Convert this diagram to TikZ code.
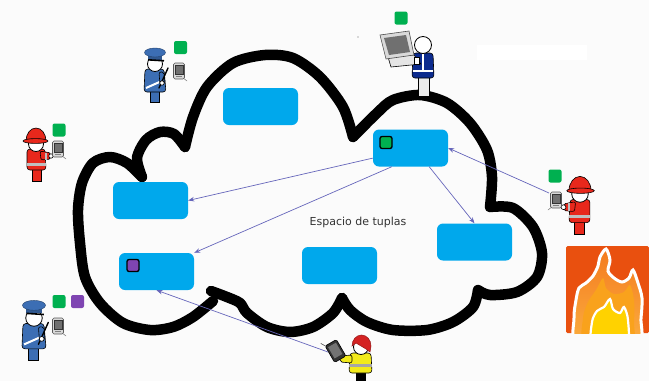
\documentclass[tikz,border=0pt]{standalone}
\usepackage{fontspec}
\setmainfont{DejaVu Sans}
\usetikzlibrary{arrows.meta}

\definecolor{bg}{HTML}{FBFBFB}
\definecolor{tupleblue}{HTML}{00A8EC}
\definecolor{tokgreen}{HTML}{00B050}
\definecolor{tokpurple}{HTML}{7F45B2}
\definecolor{linkblue}{HTML}{6666BB}
\definecolor{police}{HTML}{3C6EB4}
\definecolor{fire}{HTML}{E8281C}
\definecolor{navy}{HTML}{0C2B8E}
\definecolor{vest}{HTML}{F2EA1A}
\definecolor{hair}{HTML}{D42222}
\definecolor{devbody}{HTML}{D9D9D9}
\definecolor{devscreen}{HTML}{707070}
\definecolor{firebg}{HTML}{E9500F}
\definecolor{flametop}{HTML}{F47B20}
\definecolor{flamebot}{HTML}{FBB040}
\definecolor{flamemid}{HTML}{F9A21C}
\definecolor{flameinner}{HTML}{FFD200}

\tikzset{
  tuple/.style={rounded corners=6pt, fill=tupleblue, minimum width=75pt,
    minimum height=37pt, inner sep=0pt},
  token/.style={rounded corners=2pt, minimum size=13pt, inner sep=0pt},
  intoken/.style={token, draw=black, line width=1.3pt, minimum size=12pt},
  link/.style={draw=linkblue, line width=0.7pt, -{Stealth[length=6pt,width=4.5pt]}},
  cloudline/.style={line width=10.5pt, line cap=round, line join=round},
  outline/.style={draw=black, line width=0.6pt},
  % hand-held device with stylus
  pda/.pic={
    \draw[line width=0.5pt, black!55] (3,6) -- (8,10);
    \filldraw[fill=devbody, draw=black!65, line width=0.6pt, rounded corners=1.5pt]
      (-5.5,-8) rectangle (5.5,8);
    \filldraw[fill=devscreen, draw=black!80, line width=0.4pt] (-3.8,-5.5) rectangle (3.8,3);
    \fill[black!50] (-3,5) rectangle (3,6);
  },
  % police officer, origin at the head centre
  policeman/.pic={
    \filldraw[fill=police, outline] (-5,26) rectangle (4,38);
    \filldraw[fill=police, outline, rounded corners=3pt]
      (-10,5) -- (9,5) -- (11,28) -- (-11,28) -- cycle;
    \draw[white, line width=2pt] (-9,24) -- (9,16);
    \filldraw[fill=police, outline, rounded corners=2pt]
      (4,8) -- (9,8) -- (10,20) -- (5,21) -- cycle;
    \draw[black, line width=1.4pt, line cap=round] (4,24) -- (13,4);
    \filldraw[fill=white, outline] (7,19) circle (2.2);
    \filldraw[fill=white, draw=black, line width=0.8pt] (0,0) circle (7.5);
    \fill[police!80!black] (-7,-11) rectangle (7,-4.5);
    \filldraw[fill=police, draw=police!60!black, line width=0.4pt] (0,-11.5) ellipse (10.5 and 4.5);
    \draw[black, line width=1.6pt] (-7,-4.2) -- (9,-3.2);
  },
  % firefighter, origin at the head centre, facing right
  fireman/.pic={
    \filldraw[fill=fire, outline] (-4,25) rectangle (5,37);
    \filldraw[fill=fire, outline, rounded corners=3pt]
      (-9,5) -- (9,5) -- (10,26) -- (-9,26) -- cycle;
    \fill[black!25] (-9,19) rectangle (10,21.5);
    \filldraw[fill=fire, outline, rounded corners=2pt]
      (4,7) -- (15,9) -- (15,15) -- (5,16) -- cycle;
    \fill[black!25] (9,8.5) rectangle (11,15.5);
    \filldraw[fill=white, outline] (15,12) circle (2.2);
    \filldraw[fill=white, draw=black, line width=0.8pt] (0,0) circle (7.5);
    \filldraw[fill=fire, outline]
      (-10,-3) arc[start angle=180, end angle=360, x radius=10, y radius=13] -- cycle;
    \filldraw[fill=fire, outline] (-0.5,-3) ellipse (12.5 and 2.4);
  },
}

\begin{document}
\begin{tikzpicture}[x=1pt, y=-1pt]
  \useasboundingbox (0,0) rectangle (649,381);
  \fill[bg] (0,0) rectangle (649,381);
  \fill[white] (477,45) rectangle (587,60);
  \fill[black!60] (358,37) circle (0.6);

  % the cloud, one stroke per lobe
  \draw[cloudline] plot[smooth] coordinates {(142,177) (137,158) (146,140) (160,132) (174,134) (185,147)};
  \draw[cloudline] plot[smooth] coordinates {(185,147) (193,117) (207,87) (233,63) (265,55) (293,58) (320,77) (343,107) (353,137)};
  \draw[cloudline] plot[smooth] coordinates {(353,137) (377,113) (393,100) (420,95) (447,103) (470,123) (487,150) (492,177) (490,207)};
  \draw[cloudline] plot[smooth] coordinates {(490,207) (513,208) (533,227) (542,253) (537,277) (517,292) (490,295) (478,290)};
  \draw[cloudline] plot[smooth] coordinates {(478,290) (473,307) (453,322) (427,330) (393,330) (367,322) (350,310) (342,298)};
  \draw[cloudline] plot[smooth] coordinates {(342,298) (333,313) (313,327) (290,332) (267,327) (247,313) (240,303) (227,297) (211,291)};
  \draw[cloudline] plot[smooth] coordinates {(213,301) (193,317) (173,327) (150,330) (123,323) (100,303) (85,277) (80,243) (78,210) (82,183) (93,163) (110,157) (127,163) (142,177)};

  % tuples
  \node[tuple] (t1) at (260.5,106.5) {};
  \node[tuple] (t2) at (410.5,148) {};
  \node[tuple] (t3) at (150.5,200.5) {};
  \node[tuple] (t4) at (156.5,271.5) {};
  \node[tuple] (t5) at (339.5,265.5) {};
  \node[tuple] (t6) at (474.5,242) {};
  \node[intoken, fill=tokgreen] (g2) at (386,142.5) {};
  \node[intoken, fill=tokpurple] (p4) at (133,265.5) {};

  \node[text=black!80, font=\fontsize{11}{13}\selectfont] (lbl) at (358,222) {Espacio de tuplas};

  % free ends of the incoming links
  \coordinate (pdaR) at (549,193);
  \coordinate (tabY) at (328,352);

  \draw[link] (t2.195) -- (t3.east);
  \draw[link] (t2.225) -- (t4.north east);
  \draw[link] (t2.315) -- (t6.north);
  \draw[link] (pdaR) -- (t2.east);
  \draw[link] (tabY) -- (t4.south);

  % tokens held by the agents
  \node[token, fill=tokgreen] (k1) at (180.5,47.5) {};
  \node[token, fill=tokgreen] (k2) at (401,18) {};
  \node[token, fill=tokgreen] (k3) at (59,130) {};
  \node[token, fill=tokgreen] (k4) at (555,176) {};
  \node[token, fill=tokgreen] (k5) at (59,301.5) {};
  \node[token, fill=tokpurple] (k6) at (77.5,301.5) {};

  % police officers
  \pic at (155,64) {policeman};
  \pic at (179,71) {pda};
  \pic[scale=1.1] at (34,318) {policeman};
  \pic at (58,326) {pda};

  % firefighters
  \pic at (36,144) {fireman};
  \pic at (58,149) {pda};
  \pic[xscale=-1.1, yscale=1.1] at (580,194) {fireman};
  \pic[xscale=-1] at (556,200) {pda};

  % person at a laptop
  \filldraw[fill=black!8, outline] (418,76) rectangle (429,96);
  \filldraw[fill=navy, outline, rounded corners=3pt] (413,53) -- (433,53) -- (434,78) -- (412,78) -- cycle;
  \draw[white, line width=1.2pt] (423,54) -- (423,72);
  \draw[white, line width=1.5pt] (413,71) -- (433,71);
  \filldraw[fill=black!10, outline] (388,57) -- (414,55) -- (421,64) -- (391,67) -- cycle;
  \filldraw[fill=black!15, draw=black!70, line width=0.6pt] (380,35) -- (409,31) -- (414,55) -- (386,59) -- cycle;
  \fill[devscreen] (384,38) -- (406,35) -- (410,52) -- (389,55) -- cycle;
  \filldraw[fill=white, outline] (414,57) -- (419,57) -- (419,64) -- (414,64) -- cycle;
  \filldraw[fill=white, draw=black, line width=0.8pt] (423,45) circle (8.5);

  % worker in a safety vest with a tablet
  \fill[black] (356,371) rectangle (366,381);
  \filldraw[fill=vest, outline, rounded corners=3pt] (350,353) -- (371,353) -- (372,373) -- (349,373) -- cycle;
  \fill[black!35] (349,364) rectangle (372,366.5);
  \filldraw[fill=vest, outline, rounded corners=2pt] (352,355) -- (340,356) -- (340,362) -- (352,363) -- cycle;
  \filldraw[fill=white, draw=black, line width=0.8pt] (361,347) circle (7.5);
  \filldraw[fill=hair, draw=hair!70!black, line width=0.5pt]
    (352,346) arc[start angle=180, end angle=360, x radius=9.5, y radius=11] -- (370,352)
    -- (366,349) -- (356,343) -- cycle;
  \begin{scope}[shift={(335.5,351)}, rotate=30]
    \draw[black!70, line width=0.6pt] (-6,-9) -- (-9,-14);
    \filldraw[fill=black!80, draw=black, line width=0.6pt, rounded corners=1.5pt] (-6.5,-9.5) rectangle (6.5,9.5);
    \fill[black!55] (-4.5,-7) rectangle (4.5,6);
  \end{scope}

  % fire alarm icon
  \fill[firebg, rounded corners=1.5pt] (566,246) rectangle (649,333);
  \begin{scope}
    \clip (566,246) rectangle (649,333);
    \filldraw[top color=flametop, bottom color=flamebot, draw=white, line width=3pt]
      plot[smooth cycle, tension=0.5] coordinates {(578,345) (574,318) (576,300) (579,288)
        (586,283) (593,276) (598,266) (600,257) (606,249) (610,260) (608,271) (614,278)
        (622,282) (629,278) (633,270) (638,283) (642,298) (641,318) (637,345)};
    \fill[flamemid] plot[smooth cycle, tension=0.5] coordinates {(585,345) (583,318) (588,302)
      (596,290) (603,278) (606,288) (614,294) (624,292) (630,285) (634,300) (634,322) (631,345)};
    \filldraw[fill=flameinner, draw=white, line width=2.2pt]
      plot[smooth cycle, tension=0.5] coordinates {(593,345) (592,322) (597,311) (604,307)
        (610,299) (613,309) (620,313) (624,307) (628,320) (626,345)};
  \end{scope}
\end{tikzpicture}
\end{document}
